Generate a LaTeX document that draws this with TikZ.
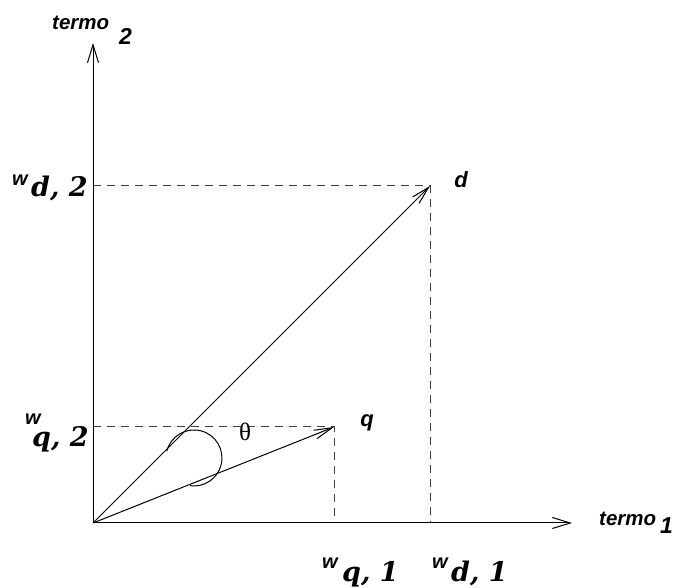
\documentclass[tikz,border=0pt]{standalone}
\usepackage{fontspec}
\usetikzlibrary{arrows.meta}
\newfontfamily\sansfam{Liberation Sans}
\newfontfamily\serfam{DejaVu Serif}
\newfontfamily\serup{Liberation Serif}
\begin{document}
\begin{tikzpicture}[x=1pt,y=1pt,
  axis/.style={line width=1pt,-{Straight Barb[length=18pt,width=11pt,line width=1pt]}},
  vec/.style={line width=1pt,-{Straight Barb[length=18pt,width=9pt,line width=1pt]}},
  guide/.style={line width=1pt,draw=black!75,dash pattern=on 8pt off 6pt},
  lab/.style={inner sep=0pt,anchor=base west},
  tname/.style={lab,font=\fontsize{20.5}{20.5}\sansfam\bfseries\itshape},
  tidx/.style={lab,font=\fontsize{23}{23}\sansfam\bfseries\itshape},
  wlab/.style={lab,font=\fontsize{20}{20}\sansfam\bfseries\itshape},
  wsub/.style={lab,font=\fontsize{27}{27}\serfam\bfseries\itshape},
  vlab/.style={inner sep=0pt,font=\fontsize{22}{22}\sansfam\bfseries\itshape}]
\useasboundingbox (0,0) rectangle (685,588);
\coordinate (O) at (93,65);
\coordinate (xend) at (572,65);
\coordinate (yend) at (93,545);
\coordinate (d) at (430,402);
\coordinate (q) at (334,161);
\coordinate (dy) at (93,402);
\coordinate (dx) at (430,65);
\coordinate (qy) at (93,161);
\coordinate (qx) at (334,65);
\coordinate (arcstart) at (166.8,136.8);
% guides
\draw[guide] (dy) -- (d) -- (dx);
\draw[guide] (qy) -- (q) -- (qx);
% axes
\draw[axis] (O) -- (xend);
\draw[axis] (O) -- (yend);
% vectors
\draw[vec] (O) -- (d);
\draw[vec] (O) -- (q);
% angle arc
\draw[line width=1pt] (arcstart) arc[start angle=166,end angle=-98,radius=28];
% labels
\node[vlab] (dlab) at (461,408) {d};
\node[vlab] (qlab) at (367,165) {q};
\node[inner sep=0pt,font=\fontsize{25}{25}\serup] (theta) at (245,156) {θ};
\node[tname] (t2) at (52,558) {termo};
\node[tidx] (t2i) at (119,543) {2};
\node[tname] (t1) at (599,62) {termo};
\node[tidx] (t1i) at (660,54) {1};
\node[wlab] (wd2) at (12,402) {w};
\node[wsub] (sd2) at (31,391) {d, 2};
\node[wlab] (wq2) at (25,163) {w};
\node[wsub] (sq2) at (32,141) {q, 2};
\node[wlab] (wq1) at (322,19) {w};
\node[wsub] (sq1) at (342,6) {q, 1};
\node[wlab] (wd1) at (432,19) {w};
\node[wsub] (sd1) at (451,6) {d, 1};
\end{tikzpicture}
\end{document}
